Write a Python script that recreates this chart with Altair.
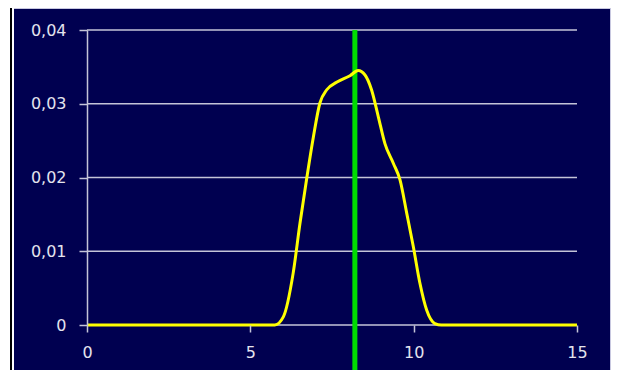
import altair as alt
import pandas as pd

# Curve values
x_vals = [0, 5.75, 6.01, 6.31, 6.52, 6.72, 6.93, 7.13, 7.34, 7.64, 8.05, 8.30, 8.51,
          8.71, 8.92, 9.12, 9.38, 9.58, 9.79, 9.99, 10.19, 10.40, 10.65, 10.85, 15]
y_vals = [0, 0, 0.0011, 0.0070, 0.0138, 0.0197, 0.0255, 0.0301, 0.0319, 0.0329, 0.0338,
          0.0345, 0.0339, 0.0319, 0.0282, 0.0246, 0.0219, 0.0197, 0.0151, 0.0106, 0.0057,
          0.0020, 0.0002, 0, 0]
marker_x = [8.2]
x_ticks = [0, 5, 10, 15]
y_ticks = [0, 0.01, 0.02, 0.03, 0.04]

NAVY = "#000050"
GRID = "#c4c4d8"
W, H = 490, 295

curve = pd.DataFrame({"x": x_vals, "y": y_vals})
marker = pd.DataFrame({"x": marker_x})
grid_df = pd.DataFrame({"y": y_ticks})
dummy = pd.DataFrame({"a": [0]})

xscale = alt.Scale(domain=[0, 15], nice=False)
yscale = alt.Scale(domain=[0, 0.04], nice=False)

bg = alt.Chart(dummy).mark_rect(color=NAVY).encode(
    x=alt.value(-73), x2=alt.value(524), y=alt.value(-22), y2=alt.value(340))
left_edge = alt.Chart(dummy).mark_rect(color="#000000").encode(
    x=alt.value(-77), x2=alt.value(-75), y=alt.value(-22), y2=alt.value(340))
top_edge = alt.Chart(dummy).mark_rule(color="#c8c8e0", strokeWidth=1).encode(
    x=alt.value(-73), x2=alt.value(524), y=alt.value(-21.5))
right_edge = alt.Chart(dummy).mark_rule(color="#c8c8e0", strokeWidth=1).encode(
    x=alt.value(523.5), y=alt.value(-22), y2=alt.value(340))

gridlines = alt.Chart(grid_df).mark_rule(color=GRID, strokeWidth=1.5).encode(
    y=alt.Y("y:Q", scale=yscale), x=alt.value(0), x2=alt.value(W))

axes = alt.Chart(curve).mark_line(opacity=0).encode(
    x=alt.X("x:Q", scale=xscale, axis=alt.Axis(
        values=x_ticks, grid=False, domain=False, ticks=True, tickSize=7,
        tickColor=GRID, tickWidth=1.5, labelColor="#e4e4ee", labelFontSize=16,
        labelFont="DejaVu Sans", labelPadding=12, title=None, format="d", zindex=1,
        labelFlush=False)),
    y=alt.Y("y:Q", scale=yscale, axis=alt.Axis(
        values=y_ticks, grid=False,
        domain=True, domainColor=GRID, domainWidth=1.5, ticks=True, tickSize=8,
        tickColor=GRID, tickWidth=1.5, labelColor="#e4e4ee", labelFontSize=16,
        labelFont="DejaVu Sans", labelPadding=13, title=None, zindex=1,
        labelFlush=False,
        labelExpr="datum.value == 0 ? '0' : replace(format(datum.value, '.2f'), '.', ',')")),
)

green = alt.Chart(marker).mark_rule(color="#00dd00", strokeWidth=5).encode(
    x=alt.X("x:Q", scale=xscale), y=alt.value(0), y2=alt.value(340))

line = alt.Chart(curve).mark_line(color="#ffff00", strokeWidth=3, interpolate="monotone").encode(
    x=alt.X("x:Q", scale=xscale), y=alt.Y("y:Q", scale=yscale))

chart = alt.layer(bg, left_edge, top_edge, right_edge, gridlines, axes, green, line).properties(
    width=W, height=H,
    autosize=alt.AutoSizeParams(type="none"),
    padding={"left": 79, "top": 22, "right": 34, "bottom": 45},
    background="#ffffff",
).configure_view(stroke=None)

chart.save("out.html", embed_options={"renderer": "svg", "actions": False})
